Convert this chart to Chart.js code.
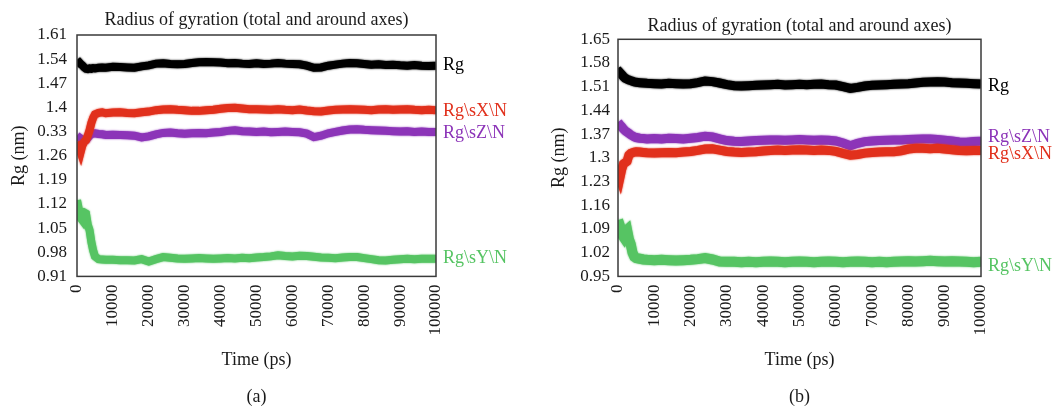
<!DOCTYPE html>
<html>
<head>
<meta charset="utf-8">
<script src="https://cdn.jsdelivr.net/npm/chart.js@4/dist/chart.umd.min.js"></script>
<style>
  html, body { margin: 0; padding: 0; background: #fff; }
  .panel { position: absolute; top: 0; width: 532px; height: 408px; }
  #wrapA { left: 0; }
  #wrapB { left: 532px; }
</style>
</head>
<body>
<div class="panel" id="wrapA"><canvas id="chartA"></canvas></div>
<div class="panel" id="wrapB"><canvas id="chartB"></canvas></div>
<script>
// time axis (ps), shared by both panels
const times = [0, 500, 1000, 1500, 2000, 2500, 3000, 3500, 4000, 4500, 5000, 6000, 7000, 8000,
  10000, 12000, 14000, 16000, 18000, 20000, 22000, 24000, 26000, 28000, 30000, 32000, 34000, 36000,
  38000, 40000, 42000, 44000, 46000, 48000, 50000, 52000, 54000, 56000, 58000, 60000, 62000, 64000,
  66000, 68000, 70000, 72000, 74000, 76000, 78000, 80000, 82000, 84000, 86000, 88000, 90000, 92000,
  94000, 96000, 98000, 100000];
const xTicks = [0, 10000, 20000, 30000, 40000, 50000, 60000, 70000, 80000, 90000, 100000];

// panel (a)
const rgA = [1.538, 1.532, 1.526, 1.522, 1.516, 1.512, 1.511, 1.513, 1.512, 1.514, 1.513, 1.515, 1.516, 1.515,
  1.518, 1.517, 1.516, 1.515, 1.519, 1.522, 1.527, 1.528, 1.526, 1.525, 1.526, 1.529, 1.531, 1.532,
  1.531, 1.530, 1.528, 1.529, 1.527, 1.526, 1.528, 1.526, 1.527, 1.529, 1.527, 1.526, 1.525, 1.521,
  1.515, 1.516, 1.521, 1.524, 1.527, 1.529, 1.528, 1.526, 1.524, 1.525, 1.523, 1.524, 1.522, 1.521,
  1.523, 1.521, 1.520, 1.521];
const rgXA = [1.300, 1.285, 1.270, 1.290, 1.300, 1.305, 1.318, 1.334, 1.355, 1.370, 1.380, 1.384, 1.386, 1.383,
  1.385, 1.386, 1.384, 1.383, 1.386, 1.388, 1.392, 1.394, 1.395, 1.393, 1.392, 1.390, 1.390, 1.392,
  1.393, 1.396, 1.398, 1.399, 1.397, 1.395, 1.395, 1.394, 1.393, 1.395, 1.393, 1.392, 1.394, 1.391,
  1.389, 1.388, 1.391, 1.393, 1.394, 1.395, 1.394, 1.393, 1.392, 1.394, 1.395, 1.393, 1.394, 1.395,
  1.393, 1.392, 1.393, 1.392];
const rgZA = [1.318, 1.314, 1.310, 1.306, 1.304, 1.306, 1.312, 1.318, 1.322, 1.324, 1.325, 1.323, 1.322, 1.320,
  1.321, 1.320, 1.319, 1.318, 1.313, 1.316, 1.322, 1.326, 1.327, 1.325, 1.324, 1.325, 1.326, 1.325,
  1.327, 1.329, 1.332, 1.334, 1.331, 1.330, 1.329, 1.330, 1.328, 1.329, 1.330, 1.329, 1.328, 1.324,
  1.314, 1.318, 1.325, 1.329, 1.333, 1.336, 1.337, 1.335, 1.334, 1.333, 1.332, 1.331, 1.330, 1.331,
  1.329, 1.330, 1.329, 1.329];
const rgYA = [1.131, 1.105, 1.080, 1.073, 1.095, 1.092, 1.060, 1.044, 1.010, 0.985, 0.968, 0.960, 0.959, 0.958,
  0.958, 0.957, 0.957, 0.956, 0.960, 0.953, 0.960, 0.966, 0.964, 0.962, 0.961, 0.962, 0.963, 0.962,
  0.961, 0.962, 0.963, 0.962, 0.964, 0.963, 0.965, 0.966, 0.968, 0.971, 0.969, 0.968, 0.970, 0.969,
  0.967, 0.965, 0.964, 0.963, 0.965, 0.966, 0.966, 0.963, 0.960, 0.957, 0.956, 0.958, 0.960, 0.961,
  0.960, 0.961, 0.961, 0.961];
const yTicksA = [0.91, 0.98, 1.05, 1.12, 1.19, 1.26, 1.33, 1.40, 1.47, 1.54, 1.61];
const yLabelsA = ['0.91', '0.98', '1.05', '1.12', '1.19', '1.26', '0.33', '1.4', '1.47', '1.54', '1.61'];

// panel (b)
const rgB = [1.548, 1.552, 1.546, 1.540, 1.535, 1.532, 1.530, 1.528, 1.526, 1.524, 1.523, 1.522, 1.521, 1.520,
  1.519, 1.518, 1.520, 1.519, 1.518, 1.519, 1.522, 1.527, 1.525, 1.521, 1.516, 1.513, 1.512, 1.513,
  1.514, 1.515, 1.516, 1.517, 1.515, 1.516, 1.517, 1.516, 1.517, 1.518, 1.516, 1.515, 1.510, 1.505,
  1.508, 1.512, 1.514, 1.515, 1.516, 1.517, 1.518, 1.519, 1.521, 1.523, 1.524, 1.525, 1.524, 1.522,
  1.521, 1.520, 1.519, 1.518];
const rgZB = [1.405, 1.398, 1.392, 1.385, 1.380, 1.376, 1.372, 1.368, 1.365, 1.362, 1.360, 1.358, 1.357, 1.356,
  1.357, 1.356, 1.358, 1.357, 1.356, 1.358, 1.360, 1.364, 1.362, 1.356, 1.351, 1.349, 1.348, 1.350,
  1.351, 1.352, 1.353, 1.353, 1.352, 1.353, 1.354, 1.353, 1.352, 1.353, 1.352, 1.350, 1.344, 1.336,
  1.343, 1.348, 1.350, 1.351, 1.352, 1.353, 1.353, 1.354, 1.355, 1.356, 1.356, 1.354, 1.352, 1.350,
  1.347, 1.346, 1.348, 1.349];
const rgXB = [1.255, 1.240, 1.265, 1.282, 1.286, 1.290, 1.308, 1.313, 1.315, 1.317, 1.318, 1.317, 1.316, 1.315,
  1.314, 1.315, 1.316, 1.315, 1.317, 1.319, 1.322, 1.326, 1.327, 1.323, 1.319, 1.317, 1.316, 1.317,
  1.318, 1.320, 1.322, 1.323, 1.322, 1.323, 1.324, 1.323, 1.322, 1.323, 1.322, 1.319, 1.313, 1.308,
  1.310, 1.314, 1.316, 1.317, 1.318, 1.318, 1.321, 1.326, 1.328, 1.328, 1.327, 1.328, 1.326, 1.324,
  1.322, 1.321, 1.322, 1.322];
const rgYB = [1.116, 1.100, 1.075, 1.067, 1.082, 1.087, 1.060, 1.045, 1.020, 1.008, 1.004, 1.002, 1.000, 0.999,
  0.998, 0.999, 0.998, 0.997, 0.998, 0.999, 1.001, 1.004, 1.000, 0.994, 0.993, 0.993, 0.992, 0.993,
  0.992, 0.993, 0.994, 0.993, 0.992, 0.993, 0.994, 0.993, 0.992, 0.993, 0.994, 0.993, 0.992, 0.993,
  0.994, 0.993, 0.992, 0.993, 0.992, 0.993, 0.994, 0.995, 0.994, 0.995, 0.996, 0.995, 0.994, 0.995,
  0.994, 0.993, 0.992, 0.993];
const yTicksB = [0.95, 1.02, 1.09, 1.16, 1.23, 1.30, 1.37, 1.44, 1.51, 1.58, 1.65];
const yLabelsB = ['0.95', '1.02', '1.09', '1.16', '1.23', '1.3', '1.37', '1.44', '1.51', '1.58', '1.65'];

const seriesNames = ['Rg', 'Rg\\sX\\N', 'Rg\\sZ\\N', 'Rg\\sY\\N'];
const colors = ['#000000', '#e1301c', '#8c34b8', '#56c463'];
const FONT = '"Liberation Serif", "DejaVu Serif", serif';
const TEXT = '#1a1a1a';

Chart.defaults.font.family = FONT;
Chart.defaults.color = TEXT;

// box around the plot area
const frame = {
  id: 'frame',
  afterDraw(chart) {
    const {ctx, chartArea: a} = chart;
    ctx.save();
    ctx.strokeStyle = '#3a3a3a';
    ctx.lineWidth = 1.5;
    ctx.strokeRect(a.left, a.top, a.right - a.left, a.bottom - a.top);
    ctx.restore();
  }
};

// soft edge on the thick traces (the originals are noisy bands)
const fuzz = {
  id: 'fuzz',
  beforeDatasetDraw(chart, args) {
    const ctx = chart.ctx;
    ctx.save();
    ctx.shadowColor = args.meta.dataset.options.borderColor;
    ctx.shadowBlur = 2;
  },
  afterDatasetDraw(chart) {
    chart.ctx.restore();
  }
};

// coloured series names at the right end of each line
const endLabels = {
  id: 'endLabels',
  afterDatasetsDraw(chart, args, opts) {
    const {ctx, chartArea, scales} = chart;
    ctx.save();
    ctx.font = '18px ' + FONT;
    ctx.textBaseline = 'middle';
    ctx.textAlign = 'left';
    chart.data.datasets.forEach((ds, i) => {
      const last = ds.data[ds.data.length - 1];
      ctx.fillStyle = ds.borderColor;
      ctx.fillText(ds.label, chartArea.right + 7, scales.y.getPixelForValue(last.y) + (opts.nudge[i] || 0));
    });
    ctx.restore();
  }
};

function makeDatasets(list) {
  return list.map((s) => ({
    label: seriesNames[s.i],
    data: times.map((t, k) => ({x: t, y: s.values[k]})),
    borderColor: colors[s.i],
    backgroundColor: colors[s.i],
    borderWidth: s.width,
    pointRadius: 0,
    tension: 0
  }));
}

function makeConfig(p) {
  return {
    type: 'line',
    data: {datasets: makeDatasets(p.series)},
    options: {
      responsive: true,
      maintainAspectRatio: false,
      animation: false,
      events: [],
      layout: {padding: p.padding},
      plugins: {
        legend: {display: false},
        tooltip: {enabled: false},
        title: {
          display: true,
          fullSize: false,
          text: 'Radius of gyration (total and around axes)',
          font: {size: 18, weight: 'normal'},
          color: TEXT,
          padding: p.titlePad
        },
        subtitle: {
          display: true,
          fullSize: false,
          position: 'bottom',
          text: p.caption,
          font: {size: 18},
          color: TEXT,
          padding: {top: 11, bottom: 0}
        },
        endLabels: {nudge: p.nudge}
      },
      scales: {
        x: {
          type: 'linear',
          min: 0,
          max: 100000,
          grid: {display: false, drawTicks: false},
          border: {display: false},
          afterBuildTicks: (s) => { s.ticks = xTicks.map((v) => ({value: v})); },
          afterFit: (s) => { s.height = 99; },
          ticks: {
            autoSkip: false,
            minRotation: 90,
            maxRotation: 90,
            padding: 8,
            font: {size: 17},
            callback: (v) => String(v)
          },
          title: {
            display: true,
            text: 'Time (ps)',
            font: {size: 18},
            padding: {top: 10, bottom: 4}
          }
        },
        y: {
          min: p.yTicks[0],
          max: p.yTicks[p.yTicks.length - 1],
          grid: {display: false, drawTicks: false},
          border: {display: false},
          afterBuildTicks: (s) => { s.ticks = p.yTicks.map((v) => ({value: v})); },
          afterFit: (s) => { s.width = p.yWidth; },
          ticks: {
            autoSkip: false,
            padding: p.yTickPad,
            font: {size: 17},
            callback: (v, idx) => p.yLabels[idx]
          },
          title: {
            display: true,
            text: 'Rg (nm)',
            font: {size: 18},
            padding: {top: p.yTitleTop, bottom: 0}
          }
        }
      }
    },
    plugins: [frame, fuzz, endLabels]
  };
}

new Chart(document.getElementById('chartA'), makeConfig({
  caption: '(a)',
  series: [
    {i: 0, values: rgA, width: 8},
    {i: 1, values: rgXA, width: 8},
    {i: 2, values: rgZA, width: 8},
    {i: 3, values: rgYA, width: 8}
  ],
  yTicks: yTicksA,
  yLabels: yLabelsA,
  padding: {left: 0, right: 96, top: 0, bottom: 0},
  titlePad: {top: 9, bottom: 4.4},
  yWidth: 77,
  yTickPad: 10,
  yTitleTop: 8,
  nudge: [0, 1, 1, -1]
}));

new Chart(document.getElementById('chartB'), makeConfig({
  caption: '(b)',
  series: [
    {i: 0, values: rgB, width: 9},
    {i: 1, values: rgXB, width: 9},
    {i: 2, values: rgZB, width: 9},
    {i: 3, values: rgYB, width: 10}
  ],
  yTicks: yTicksB,
  yLabels: yLabelsB,
  padding: {left: 0, right: 83, top: 0, bottom: 0},
  titlePad: {top: 15, bottom: 2.7},
  yWidth: 86,
  yTickPad: 8,
  yTitleTop: 16,
  nudge: [2, 4, -4, 4]
}));
</script>
</body>
</html>
